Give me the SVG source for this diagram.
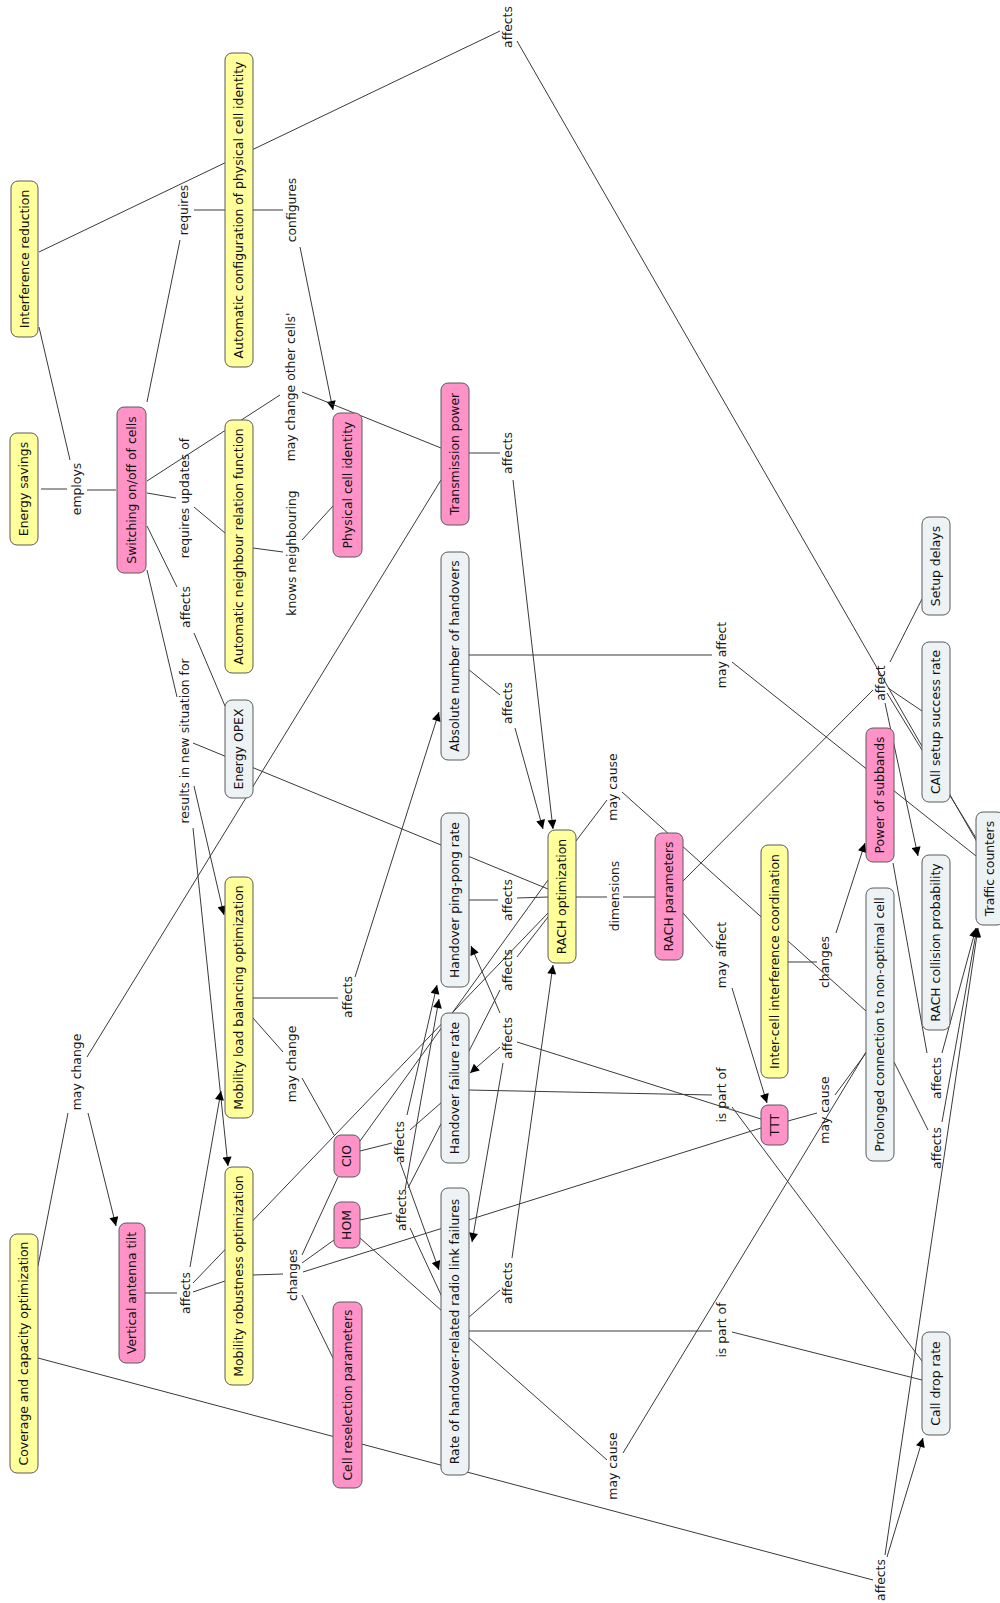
<svg xmlns="http://www.w3.org/2000/svg" width="1000" height="1603" viewBox="0 0 1000 1603">
<style>
  .c line, .c path { stroke:#3a3a3a; stroke-width:1; fill:none; }
  .a { marker-end:url(#arr); }
  .nd rect { stroke:#5a5a5a; stroke-width:1; }
  .y rect { fill:#ffff9c; }
  .p rect { fill:#ff93c8; }
  .g rect { fill:#edf3f5; }
  text { font-family:"DejaVu Sans","Verdana",sans-serif; font-size:12.4px; text-anchor:middle; fill:#111; }
  .lb text { fill:#1a1a1a; }
</style>
<defs>
  <marker id="arr" viewBox="0 0 10 10" refX="10" refY="5" markerWidth="11" markerHeight="9" markerUnits="userSpaceOnUse" orient="auto">
    <path d="M0,0 L10,5 L0,10 z" fill="#000"/>
  </marker>
</defs>
<rect width="1000" height="1603" fill="#fff"/>

<g id="connectors" class="c">
  <line x1="39" y1="252" x2="500" y2="31"/>
  <line x1="517" y1="41" x2="977" y2="842"/>
  <line x1="39" y1="327" x2="70" y2="460"/>
  <line x1="41" y1="489" x2="67" y2="489"/>
  <line x1="87" y1="490" x2="116" y2="490"/>
  <line x1="147" y1="402" x2="180" y2="240"/>
  <line x1="194" y1="210" x2="225" y2="210"/>
  <line x1="253" y1="210" x2="283" y2="210"/>
  <line class="a" x1="300" y1="247" x2="333" y2="410"/>
  <line x1="147" y1="481" x2="280" y2="395"/>
  <line x1="302" y1="392" x2="441" y2="448"/>
  <line x1="147" y1="493" x2="176" y2="498"/>
  <line x1="194" y1="507" x2="225" y2="533"/>
  <line x1="253" y1="548" x2="283" y2="552"/>
  <line x1="302" y1="540" x2="333" y2="506"/>
  <line x1="147" y1="526" x2="177" y2="587"/>
  <line x1="194" y1="633" x2="225" y2="706"/>
  <line x1="147" y1="570" x2="177" y2="697"/>
  <line x1="193" y1="743" x2="548" y2="889"/>
  <line class="a" x1="194" y1="786" x2="224" y2="915"/>
  <line class="a" x1="193" y1="828" x2="228" y2="1166"/>
  <line x1="469" y1="453" x2="500" y2="453"/>
  <line class="a" x1="513" y1="480" x2="553" y2="829"/>
  <line x1="468" y1="655" x2="712" y2="655"/>
  <line x1="732" y1="662" x2="976" y2="856"/>
  <line x1="468" y1="669" x2="500" y2="695"/>
  <line class="a" x1="515" y1="728" x2="543" y2="829"/>
  <line x1="253" y1="998" x2="338" y2="998"/>
  <line class="a" x1="355" y1="977" x2="439" y2="712"/>
  <line x1="441" y1="480" x2="87" y2="1057"/>
  <line x1="68" y1="1113" x2="38" y2="1266"/>
  <line class="a" x1="88" y1="1113" x2="116" y2="1226"/>
  <line x1="576" y1="841" x2="607" y2="800"/>
  <line x1="622" y1="792" x2="866" y2="1011"/>
  <line x1="576" y1="897" x2="607" y2="897"/>
  <line x1="623" y1="897" x2="655" y2="897"/>
  <line x1="683" y1="881" x2="873" y2="690"/>
  <line x1="890" y1="662" x2="922" y2="599"/>
  <line x1="888" y1="688" x2="922" y2="711"/>
  <line class="a" x1="885" y1="703" x2="918" y2="856"/>
  <line x1="887" y1="693" x2="976" y2="838"/>
  <line x1="683" y1="913" x2="713" y2="947"/>
  <line class="a" x1="732" y1="988" x2="767" y2="1103"/>
  <line x1="788" y1="962" x2="817" y2="962"/>
  <line class="a" x1="836" y1="933" x2="865" y2="843"/>
  <line x1="893" y1="863" x2="927" y2="1053"/>
  <line class="a" x1="942" y1="1053" x2="976" y2="928"/>
  <line x1="894" y1="1062" x2="928" y2="1130"/>
  <line class="a" x1="942" y1="1122" x2="977" y2="928"/>
  <line class="a" x1="885" y1="1555" x2="978" y2="928"/>
  <line class="a" x1="887" y1="1557" x2="923" y2="1438"/>
  <line x1="38" y1="1358" x2="873" y2="1580"/>
  <line x1="469" y1="900" x2="498" y2="900"/>
  <line x1="517" y1="898" x2="548" y2="897"/>
  <line x1="468" y1="1053" x2="500" y2="990"/>
  <line x1="517" y1="957" x2="548" y2="917"/>
  <line x1="761" y1="1119" x2="517" y2="1042"/>
  <line class="a" x1="500" y1="1013" x2="471" y2="946"/>
  <line class="a" x1="500" y1="1047" x2="470" y2="1073"/>
  <line class="a" x1="503" y1="1063" x2="472" y2="1242"/>
  <line x1="468" y1="1318" x2="500" y2="1290"/>
  <line class="a" x1="512" y1="1258" x2="553" y2="965"/>
  <line x1="468" y1="1090" x2="712" y2="1095"/>
  <line x1="732" y1="1107" x2="922" y2="1361"/>
  <line x1="468" y1="1331" x2="712" y2="1331"/>
  <line x1="732" y1="1332" x2="922" y2="1380"/>
  <line x1="468" y1="1337" x2="607" y2="1460"/>
  <line x1="623" y1="1453" x2="866" y2="1052"/>
  <line x1="788" y1="1121" x2="817" y2="1113"/>
  <line x1="835" y1="1095" x2="866" y2="1053"/>
  <line x1="253" y1="1018" x2="283" y2="1052"/>
  <line x1="302" y1="1078" x2="334" y2="1135"/>
  <line x1="548" y1="880" x2="360" y2="1141"/>
  <line x1="360" y1="1151" x2="392" y2="1143"/>
  <line class="a" x1="407" y1="1115" x2="437" y2="985"/>
  <line x1="410" y1="1130" x2="442" y2="1102"/>
  <line class="a" x1="400" y1="1162" x2="439" y2="1270"/>
  <line x1="360" y1="1220" x2="392" y2="1213"/>
  <line class="a" x1="405" y1="1190" x2="439" y2="999"/>
  <line x1="408" y1="1188" x2="442" y2="1122"/>
  <line x1="410" y1="1228" x2="442" y2="1297"/>
  <line x1="360" y1="1238" x2="442" y2="1311"/>
  <line x1="145" y1="1293" x2="177" y2="1293"/>
  <line class="a" x1="190" y1="1267" x2="221" y2="1091"/>
  <line x1="193" y1="1292" x2="225" y2="1281"/>
  <line x1="193" y1="1283" x2="548" y2="913"/>
  <line x1="253" y1="1275" x2="283" y2="1274"/>
  <line x1="302" y1="1255" x2="338" y2="1177"/>
  <line x1="302" y1="1263" x2="334" y2="1240"/>
  <line x1="303" y1="1272" x2="761" y2="1128"/>
  <line x1="302" y1="1295" x2="333" y2="1358"/>
</g>

<!-- concepts -->
<g id="n-interference" class="nd y"><rect x="11" y="181" width="27" height="156" rx="7"/><text transform="rotate(-90 24.5 259)" x="24.5" y="259" dy="0.35em">Interference reduction</text></g>
<g id="n-acpci" class="nd y"><rect x="225" y="53" width="28" height="314" rx="7"/><text transform="rotate(-90 239 210)" x="239" y="210" dy="0.35em">Automatic configuration of physical cell identity</text></g>
<g id="n-energy-savings" class="nd y"><rect x="10" y="433" width="28" height="112" rx="7"/><text transform="rotate(-90 24 489)" x="24" y="489" dy="0.35em">Energy savings</text></g>
<g id="n-switching" class="nd p"><rect x="117" y="407" width="29" height="166" rx="7"/><text transform="rotate(-90 131.5 490)" x="131.5" y="490" dy="0.35em">Switching on/off of cells</text></g>
<g id="n-anrf" class="nd y"><rect x="225" y="420" width="28" height="253" rx="7"/><text transform="rotate(-90 239 546.5)" x="239" y="546.5" dy="0.35em">Automatic neighbour relation function</text></g>
<g id="n-pci" class="nd p"><rect x="333" y="413" width="29" height="144" rx="7"/><text transform="rotate(-90 347.5 485)" x="347.5" y="485" dy="0.35em">Physical cell identity</text></g>
<g id="n-txpower" class="nd p"><rect x="441" y="383" width="28" height="142" rx="7"/><text transform="rotate(-90 455 454)" x="455" y="454" dy="0.35em">Transmission power</text></g>
<g id="n-abs-ho" class="nd g"><rect x="441" y="552" width="28" height="208" rx="7"/><text transform="rotate(-90 455 656)" x="455" y="656" dy="0.35em">Absolute number of handovers</text></g>
<g id="n-opex" class="nd g"><rect x="225" y="700" width="28" height="98" rx="7"/><text transform="rotate(-90 239 749)" x="239" y="749" dy="0.35em">Energy OPEX</text></g>
<g id="n-setup-delays" class="nd g"><rect x="922" y="517" width="28" height="98" rx="7"/><text transform="rotate(-90 936 566)" x="936" y="566" dy="0.35em">Setup delays</text></g>
<g id="n-cssr" class="nd g"><rect x="922" y="642" width="28" height="160" rx="7"/><text transform="rotate(-90 936 722)" x="936" y="722" dy="0.35em">CAll setup success rate</text></g>
<g id="n-subbands" class="nd p"><rect x="866" y="728" width="28" height="134" rx="7"/><text transform="rotate(-90 880 795)" x="880" y="795" dy="0.35em">Power of subbands</text></g>
<g id="n-pingpong" class="nd g"><rect x="441" y="813" width="28" height="174" rx="7"/><text transform="rotate(-90 455 900)" x="455" y="900" dy="0.35em">Handover ping-pong rate</text></g>
<g id="n-rach-opt" class="nd y"><rect x="548" y="830" width="28" height="133" rx="7"/><text transform="rotate(-90 562 896.5)" x="562" y="896.5" dy="0.35em">RACH optimization</text></g>
<g id="n-rach-par" class="nd p"><rect x="655" y="833" width="28" height="127" rx="7"/><text transform="rotate(-90 669 896.5)" x="669" y="896.5" dy="0.35em">RACH parameters</text></g>
<g id="n-icic" class="nd y"><rect x="761" y="845" width="27" height="233" rx="7"/><text transform="rotate(-90 774.5 961.5)" x="774.5" y="961.5" dy="0.35em">Inter-cell interference coordination</text></g>
<g id="n-prolonged" class="nd g"><rect x="866" y="888" width="28" height="273" rx="7"/><text transform="rotate(-90 880 1024.5)" x="880" y="1024.5" dy="0.35em">Prolonged connection to non-optimal cell</text></g>
<g id="n-rach-cp" class="nd g"><rect x="922" y="855" width="28" height="175" rx="7"/><text transform="rotate(-90 936 942.5)" x="936" y="942.5" dy="0.35em">RACH collision probability</text></g>
<g id="n-traffic" class="nd g"><rect x="976" y="812" width="28" height="113" rx="7"/><text transform="rotate(-90 990 868.5)" x="990" y="868.5" dy="0.35em">Traffic counters</text></g>
<g id="n-mlb" class="nd y"><rect x="225" y="877" width="28" height="241" rx="7"/><text transform="rotate(-90 239 997.5)" x="239" y="997.5" dy="0.35em">Mobility load balancing optimization</text></g>
<g id="n-ho-fail" class="nd g"><rect x="441" y="1013" width="28" height="150" rx="7"/><text transform="rotate(-90 455 1088)" x="455" y="1088" dy="0.35em">Handover failure rate</text></g>
<g id="n-ttt" class="nd p"><rect x="761" y="1105" width="27" height="40" rx="7"/><text transform="rotate(-90 774.5 1125)" x="774.5" y="1125" dy="0.35em">TTT</text></g>
<g id="n-cio" class="nd p"><rect x="334" y="1135" width="26" height="42" rx="7"/><text transform="rotate(-90 347 1156)" x="347" y="1156" dy="0.35em">CIO</text></g>
<g id="n-hom" class="nd p"><rect x="334" y="1202" width="26" height="46" rx="7"/><text transform="rotate(-90 347 1225)" x="347" y="1225" dy="0.35em">HOM</text></g>
<g id="n-mro" class="nd y"><rect x="225" y="1167" width="28" height="218" rx="7"/><text transform="rotate(-90 239 1276)" x="239" y="1276" dy="0.35em">Mobility robustness optimization</text></g>
<g id="n-tilt" class="nd p"><rect x="119" y="1223" width="26" height="140" rx="7"/><text transform="rotate(-90 132 1293)" x="132" y="1293" dy="0.35em">Vertical antenna tilt</text></g>
<g id="n-cco" class="nd y"><rect x="10" y="1234" width="28" height="239" rx="7"/><text transform="rotate(-90 24 1353.5)" x="24" y="1353.5" dy="0.35em">Coverage and capacity optimization</text></g>
<g id="n-reselect" class="nd p"><rect x="333" y="1302" width="29" height="186" rx="7"/><text transform="rotate(-90 347.5 1395)" x="347.5" y="1395" dy="0.35em">Cell reselection parameters</text></g>
<g id="n-rlf" class="nd g"><rect x="441" y="1188" width="28" height="287" rx="7"/><text transform="rotate(-90 455 1331.5)" x="455" y="1331.5" dy="0.35em">Rate of handover-related radio link failures</text></g>
<g id="n-drop" class="nd g"><rect x="922" y="1332" width="28" height="103" rx="7"/><text transform="rotate(-90 936 1383.5)" x="936" y="1383.5" dy="0.35em">Call drop rate</text></g>

<!-- linking phrases -->
<g id="labels" class="lb">
  <text transform="rotate(-90 508 27)" x="508" y="27" dy="0.35em">affects</text>
  <text transform="rotate(-90 184 210)" x="184" y="210" dy="0.35em">requires</text>
  <text transform="rotate(-90 292 210)" x="292" y="210" dy="0.35em">configures</text>
  <text transform="rotate(-90 77 489)" x="77" y="489" dy="0.35em">employs</text>
  <text transform="rotate(-90 291 387)" x="291" y="387" dy="0.35em">may change other cells'</text>
  <text transform="rotate(-90 185 498)" x="185" y="498" dy="0.35em">requires updates of</text>
  <text transform="rotate(-90 186 607)" x="186" y="607" dy="0.35em">affects</text>
  <text transform="rotate(-90 292 553)" x="292" y="553" dy="0.35em">knows neighbouring</text>
  <text transform="rotate(-90 185 741)" x="185" y="741" dy="0.35em">results in new situation for</text>
  <text transform="rotate(-90 508 453)" x="508" y="453" dy="0.35em">affects</text>
  <text transform="rotate(-90 508 703)" x="508" y="703" dy="0.35em">affects</text>
  <text transform="rotate(-90 722 655)" x="722" y="655" dy="0.35em">may affect</text>
  <text transform="rotate(-90 881 683)" x="881" y="683" dy="0.35em">affect</text>
  <text transform="rotate(-90 613 787)" x="613" y="787" dy="0.35em">may cause</text>
  <text transform="rotate(-90 615 896)" x="615" y="896" dy="0.35em">dimensions</text>
  <text transform="rotate(-90 508 900)" x="508" y="900" dy="0.35em">affects</text>
  <text transform="rotate(-90 508 970)" x="508" y="970" dy="0.35em">affects</text>
  <text transform="rotate(-90 508 1038)" x="508" y="1038" dy="0.35em">affects</text>
  <text transform="rotate(-90 722 955)" x="722" y="955" dy="0.35em">may affect</text>
  <text transform="rotate(-90 825 962)" x="825" y="962" dy="0.35em">changes</text>
  <text transform="rotate(-90 722 1095)" x="722" y="1095" dy="0.35em">is part of</text>
  <text transform="rotate(-90 825 1110)" x="825" y="1110" dy="0.35em">may cause</text>
  <text transform="rotate(-90 937 1078)" x="937" y="1078" dy="0.35em">affects</text>
  <text transform="rotate(-90 937 1148)" x="937" y="1148" dy="0.35em">affects</text>
  <text transform="rotate(-90 348 997)" x="348" y="997" dy="0.35em">affects</text>
  <text transform="rotate(-90 292 1064)" x="292" y="1064" dy="0.35em">may change</text>
  <text transform="rotate(-90 77 1072)" x="77" y="1072" dy="0.35em">may change</text>
  <text transform="rotate(-90 400 1142)" x="400" y="1142" dy="0.35em">affects</text>
  <text transform="rotate(-90 402 1210)" x="402" y="1210" dy="0.35em">affects</text>
  <text transform="rotate(-90 186 1293)" x="186" y="1293" dy="0.35em">affects</text>
  <text transform="rotate(-90 293 1275)" x="293" y="1275" dy="0.35em">changes</text>
  <text transform="rotate(-90 508 1283)" x="508" y="1283" dy="0.35em">affects</text>
  <text transform="rotate(-90 722 1330)" x="722" y="1330" dy="0.35em">is part of</text>
  <text transform="rotate(-90 613 1466)" x="613" y="1466" dy="0.35em">may cause</text>
  <text transform="rotate(-90 881 1580)" x="881" y="1580" dy="0.35em">affects</text>
</g>
</svg>
